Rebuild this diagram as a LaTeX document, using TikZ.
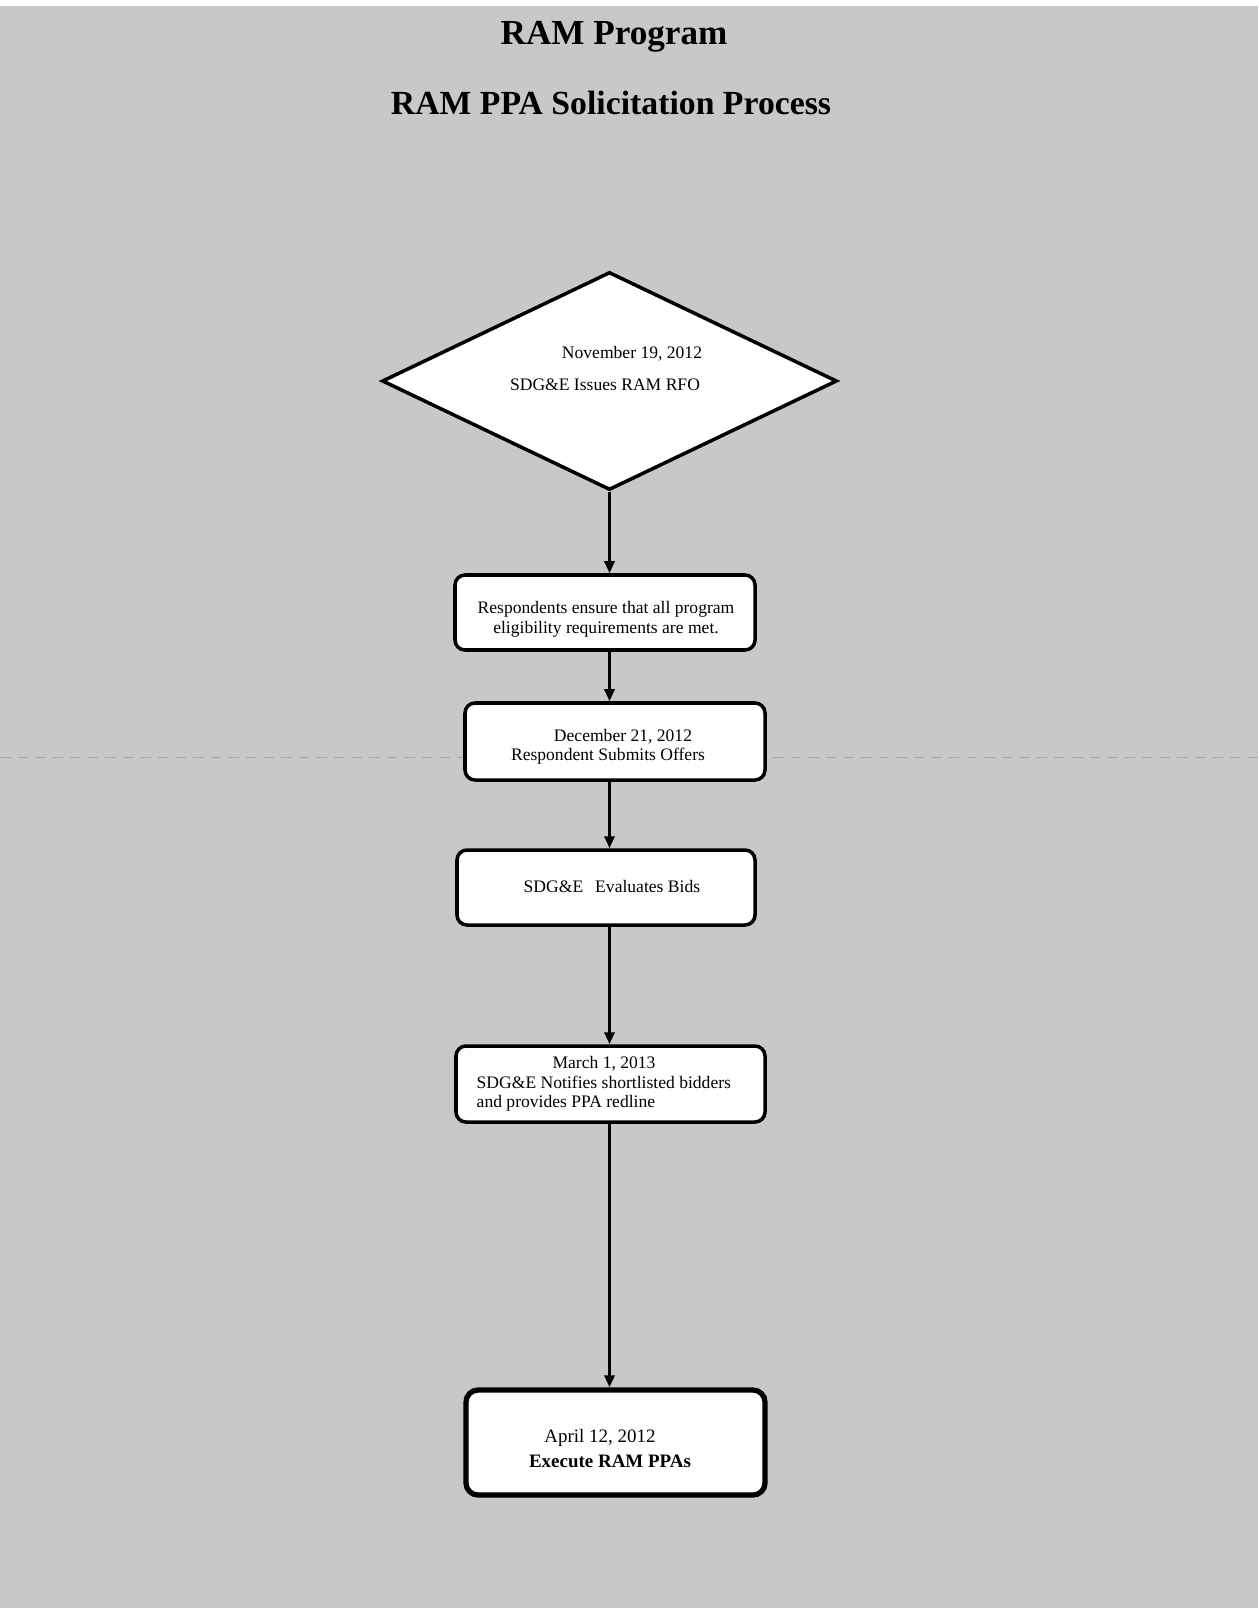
\documentclass[tikz,border=0pt]{standalone}
\usepackage{fontspec}
\setmainfont{Liberation Serif}
\usetikzlibrary{shapes.geometric, arrows.meta}

\definecolor{scangray}{RGB}{200,200,200}

\begin{document}
\begin{tikzpicture}[
    stepbox/.style={draw, fill=white, line width=1pt, rounded corners=0.1cm, inner sep=0pt},
    txt/.style={anchor=base, inner sep=0pt, font=\fontsize{5}{6}\selectfont},
    flow/.style={-{Triangle[length=0.12cm, width=0.1cm]}, line width=0.9pt}
]
    % page
    \fill[scangray] (0,0) rectangle (12.58,-16.08);
    \fill[white] (0,0) rectangle (12.58,-0.06);
    \useasboundingbox (0,0) rectangle (12.58,-16.08);
    \draw[gray!70, densely dashed, very thin] (0,-7.57) -- (12.58,-7.57);

    % titles
    \node[anchor=base, font=\bfseries\fontsize{10}{12}\selectfont] (title) at (6.14,-0.45) {RAM Program};
    \node[anchor=base, font=\bfseries\fontsize{9.6}{12}\selectfont] (subtitle) at (6.11,-1.15) {RAM PPA Solicitation Process};

    % RFO issued
    \node[diamond, draw, fill=white, line width=1pt, minimum width=4.55cm, minimum height=2.18cm, inner sep=0pt] (rfo) at (6.095,-3.81) {};
    \node[txt] (rfodate) at (6.32,-3.58) {November 19, 2012};
    \node[txt] (rfotext) at (6.05,-3.90) {SDG\&E Issues RAM RFO};

    % eligibility
    \node[stepbox, minimum width=3cm, minimum height=0.75cm] (elig) at (6.05,-6.125) {};
    \node[txt] (eligA) at (6.06,-6.13) {Respondents ensure that all program};
    \node[txt] (eligB) at (6.06,-6.33) {eligibility requirements are met.};

    % offers
    \node[stepbox, minimum width=3cm, minimum height=0.77cm] (offer) at (6.15,-7.415) {};
    \node[txt] (offerdate) at (6.23,-7.41) {December 21, 2012};
    \node[txt] (offertext) at (6.08,-7.60) {Respondent Submits Offers};

    % evaluation
    \node[stepbox, minimum width=2.98cm, minimum height=0.75cm] (eval) at (6.06,-8.875) {};
    \node[txt, anchor=base west] (evaltext) at (5.23,-8.92) {SDG\&E\hspace{0.12cm}Evaluates Bids};

    % shortlist
    \node[stepbox, minimum width=3.09cm, minimum height=0.76cm] (notify) at (6.105,-10.84) {};
    \node[txt] (notifydate) at (6.04,-10.68) {March 1, 2013};
    \node[txt, anchor=base west] (notifyA) at (4.76,-10.88) {SDG\&E Notifies shortlisted bidders};
    \node[txt, anchor=base west] (notifyB) at (4.76,-11.07) {and provides PPA redline};

    % execution
    \node[stepbox, line width=1.5pt, rounded corners=0.12cm, minimum width=2.99cm, minimum height=1.05cm] (ppa) at (6.155,-14.425) {};
    \node[txt, font=\fontsize{5.4}{6}\selectfont] (ppadate) at (6.00,-14.42) {April 12, 2012};
    \node[txt, font=\bfseries\fontsize{5.4}{6}\selectfont] (ppatext) at (6.10,-14.67) {Execute RAM PPAs};

    % connectors
    \draw[flow] (rfo.south) -- (rfo.south |- elig.north);
    \draw[flow] (rfo.south |- elig.south) -- (rfo.south |- offer.north);
    \draw[flow] (rfo.south |- offer.south) -- (rfo.south |- eval.north);
    \draw[flow] (rfo.south |- eval.south) -- (rfo.south |- notify.north);
    \draw[flow] (rfo.south |- notify.south) -- (rfo.south |- ppa.north);
\end{tikzpicture}
\end{document}
